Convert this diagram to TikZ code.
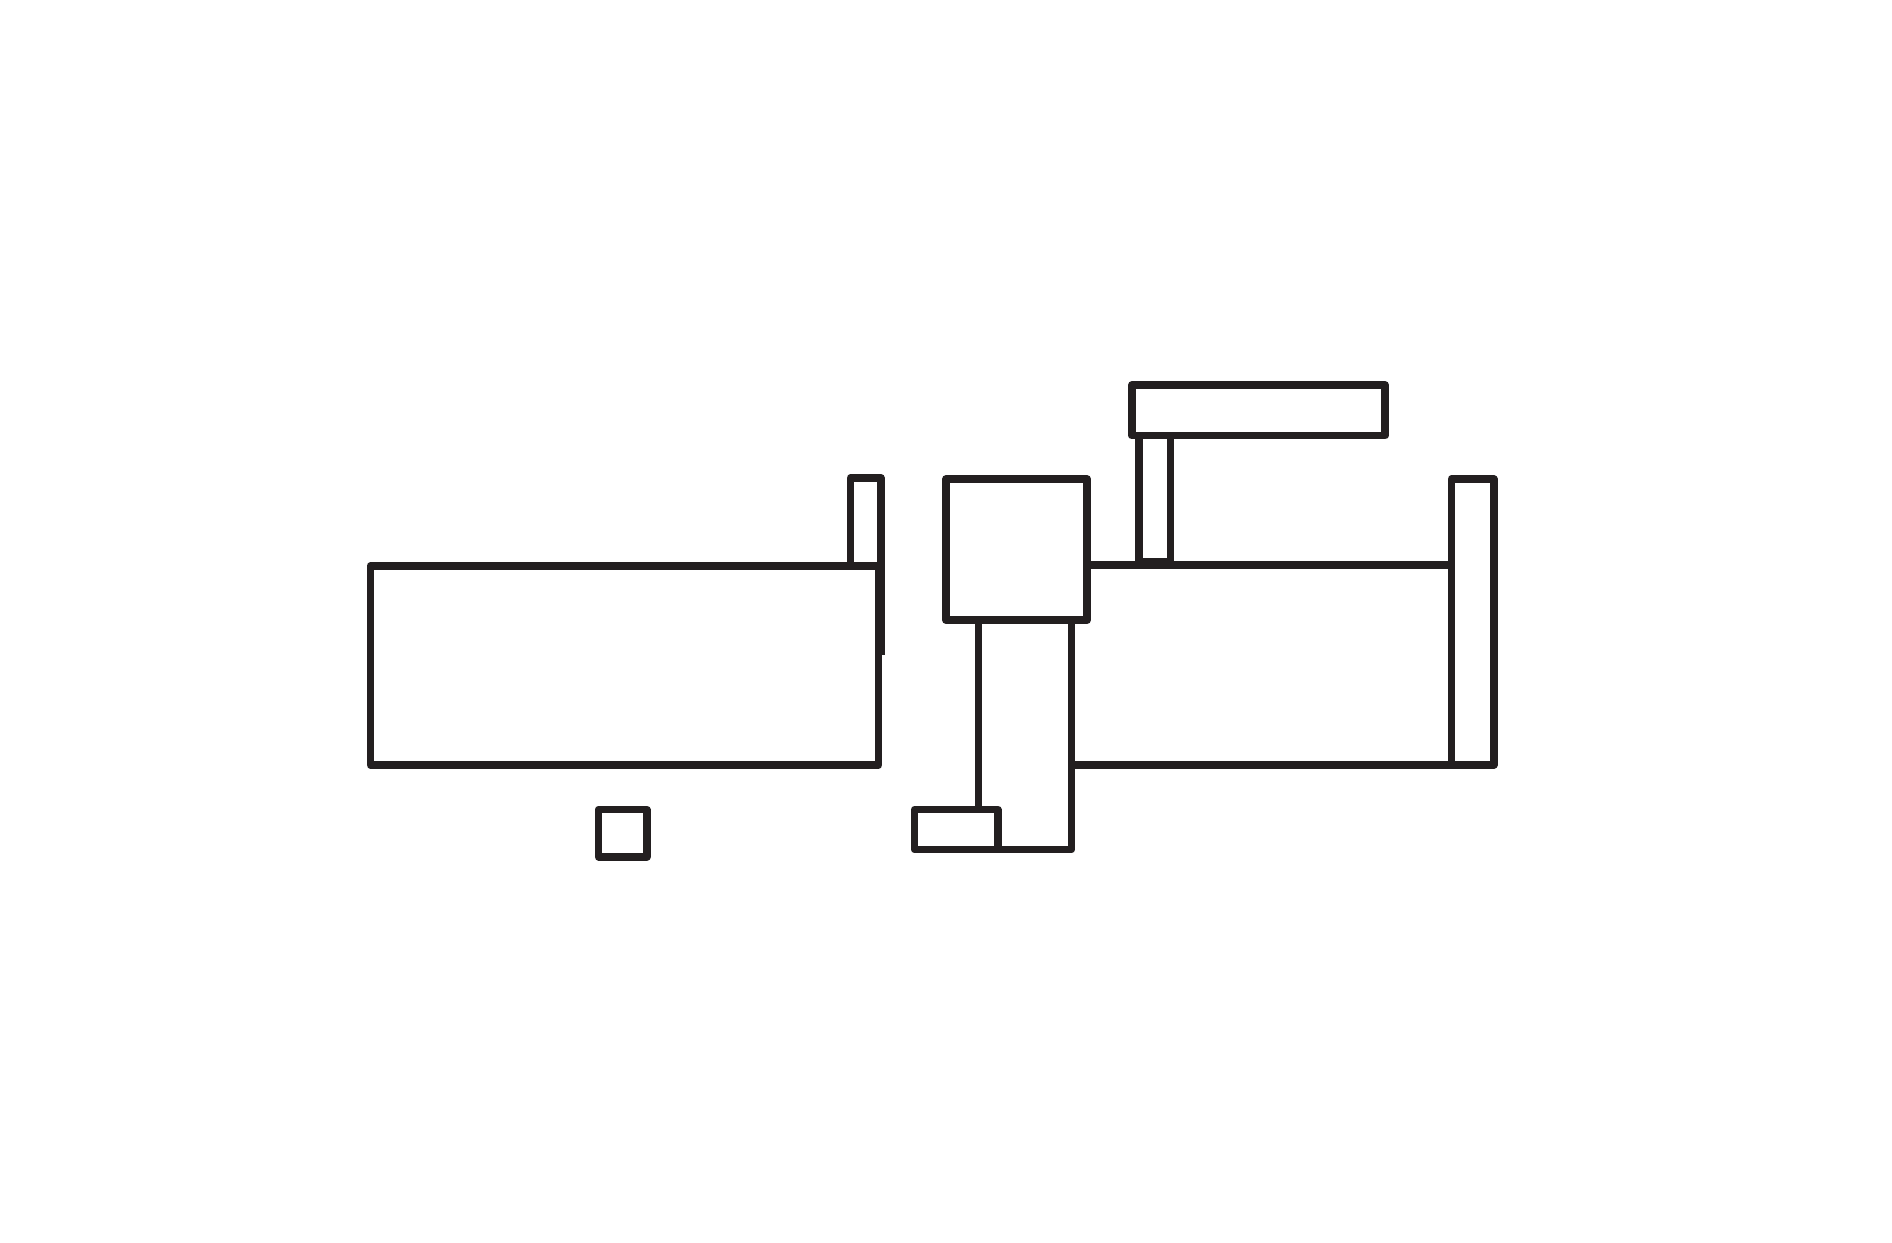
\documentclass[tikz,border=0pt]{standalone}
\definecolor{ink}{HTML}{231F20}
\begin{document}
\begin{tikzpicture}[x=0.01cm,y=-0.01cm,line width=1.8pt,line join=round,
    part/.style={draw=ink}]
  \useasboundingbox (0,0) rectangle (1568,1030);
  % left unit
  \draw[part] (307,469) rectangle (728,634);
  \draw[part] (728,469) -- (705,469) -- (705,396) -- (730,396) -- (730,543);
  \draw[part] (496,671) rectangle (536,710);
  % right unit
  \draw[part] (784,397) rectangle (901,514);
  \draw[part] (811,514) -- (811,671);
  \draw[part] (827,704) -- (888,704) -- (888,514);
  \draw[part] (758,671) rectangle (827,704);
  \draw[part] (938,319) rectangle (1148,361);
  \draw[part] (944,361) rectangle (970,466);
  \draw[part] (901,468) -- (1203,468);
  \draw[part] (888,634) -- (1203,634);
  \draw[part] (1203,397) rectangle (1238,634);
\end{tikzpicture}
\end{document}
